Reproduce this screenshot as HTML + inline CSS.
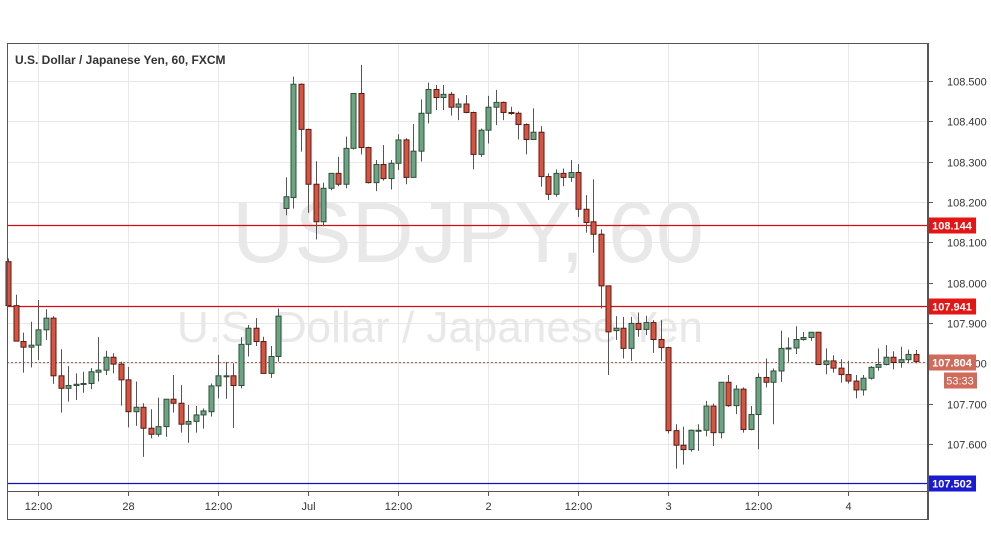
<!DOCTYPE html>
<html><head><meta charset="utf-8"><style>
body{margin:0;background:#fff;width:991px;height:556px;overflow:hidden;font-family:"Liberation Sans",sans-serif}
svg{display:block}
</style></head><body>
<svg id="chart" width="991" height="556" xmlns="http://www.w3.org/2000/svg" font-family="Liberation Sans, sans-serif">
<rect x="0" y="0" width="991" height="556" fill="#fff"/>
<g id="grid"></g>
<text x="468" y="262" font-size="86" fill="#e8e8e8" text-anchor="middle">USDJPY, 60</text>
<text x="440" y="342" font-size="44" fill="#e8e8e8" text-anchor="middle">U.S. Dollar / Japanese Yen</text>
<g id="levels"></g>
<g id="candles"></g>
<g id="yaxis"></g>
<g id="xaxis"></g>
<rect x="7.5" y="43.5" width="920" height="476" fill="none" stroke="#555" stroke-width="1"/>
<line x1="928.5" y1="43" x2="928.5" y2="520" stroke="#555"/>
<line x1="7" y1="491.5" x2="928" y2="491.5" stroke="#555"/>
<text x="15" y="64" font-size="12" font-weight="bold" fill="#333">U.S. Dollar / Japanese Yen, 60, FXCM</text>
</svg>
<script>
const opens=[108.052,107.943,107.854,107.840,107.845,107.883,107.912,107.769,107.738,107.745,107.748,107.750,107.778,107.783,107.815,107.798,107.759,107.680,107.691,107.639,107.624,107.643,107.711,107.701,107.649,107.656,107.672,107.680,107.744,107.768,107.769,107.745,107.847,107.887,107.854,107.775,107.817,
108.184,108.211,108.492,108.380,108.244,108.151,108.234,108.271,108.244,108.333,108.469,108.335,108.248,108.293,108.258,108.296,108.354,108.261,108.326,108.420,108.479,108.459,108.467,108.435,108.443,108.422,108.318,108.378,108.435,108.447,108.422,108.420,108.392,108.355,108.373,108.263,108.219,108.271,108.261,108.273,108.182,108.151,108.120,107.992,107.881,107.887,107.837,107.899,107.884,107.901,107.859,107.839,107.633,107.597,107.586,107.633,107.634,107.694,107.628,107.753,107.695,107.736,107.636,107.673,107.765,107.753,107.781,107.837,107.838,107.859,107.864,107.877,107.797,107.806,107.788,107.772,107.756,107.734,107.763,107.790,107.797,107.815,107.802,107.809,107.822];
const highs=[108.060,107.970,107.876,107.903,107.957,107.934,107.917,107.835,107.793,107.775,107.779,107.788,107.865,107.831,107.825,107.804,107.791,107.755,107.701,107.686,107.715,107.711,107.771,107.746,107.697,107.694,107.688,107.750,107.821,107.803,107.800,107.865,107.895,107.912,107.866,107.843,107.936,
108.261,108.511,108.494,108.382,108.301,108.248,108.271,108.312,108.362,108.469,108.540,108.337,108.304,108.341,108.304,108.368,108.358,108.393,108.454,108.496,108.490,108.490,108.473,108.457,108.465,108.424,108.382,108.463,108.478,108.449,108.436,108.424,108.395,108.432,108.388,108.271,108.281,108.283,108.304,108.294,108.217,108.256,108.132,107.992,107.917,107.915,107.915,107.926,107.918,107.907,107.907,107.841,107.649,107.643,107.636,107.649,107.707,107.700,107.753,107.771,107.746,107.740,107.694,107.775,107.812,107.787,107.881,107.864,107.892,107.878,107.878,107.878,107.837,107.820,107.810,107.806,107.771,107.771,107.793,107.837,107.845,107.830,107.841,107.834,107.833];
const lows=[107.943,107.855,107.777,107.790,107.808,107.858,107.749,107.678,107.705,107.709,107.727,107.736,107.755,107.771,107.775,107.695,107.641,107.645,107.568,107.614,107.618,107.618,107.678,107.628,107.603,107.628,107.638,107.668,107.713,107.712,107.640,107.738,107.817,107.843,107.775,107.764,107.804,
108.167,108.184,108.325,108.173,108.107,108.140,108.229,108.239,108.234,108.330,108.318,108.246,108.227,108.253,108.231,108.279,108.244,108.261,108.300,108.395,108.428,108.428,108.414,108.403,108.420,108.281,108.312,108.345,108.391,108.403,108.416,108.355,108.318,108.354,108.238,108.205,108.213,108.239,108.250,108.163,108.124,108.074,107.936,107.771,107.858,107.812,107.806,107.866,107.870,107.826,107.806,107.626,107.539,107.549,107.581,107.583,107.619,107.595,107.614,107.692,107.674,107.628,107.634,107.587,107.740,107.649,107.754,107.804,107.823,107.856,107.856,107.796,107.773,107.777,107.752,107.750,107.713,107.720,107.760,107.782,107.795,107.785,107.789,107.800,107.800];
const closes=[107.943,107.855,107.840,107.845,107.883,107.912,107.769,107.738,107.745,107.748,107.750,107.779,107.783,107.815,107.798,107.759,107.680,107.691,107.639,107.624,107.643,107.711,107.701,107.649,107.656,107.672,107.682,107.744,107.769,107.769,107.745,107.847,107.887,107.854,107.775,107.817,107.917,
108.213,108.492,108.380,108.244,108.151,108.234,108.271,108.244,108.333,108.469,108.335,108.248,108.293,108.258,108.296,108.354,108.261,108.326,108.420,108.479,108.459,108.467,108.435,108.443,108.422,108.318,108.378,108.435,108.447,108.422,108.420,108.392,108.355,108.373,108.263,108.219,108.271,108.261,108.273,108.182,108.149,108.120,107.992,107.878,107.887,107.837,107.899,107.884,107.901,107.859,107.839,107.633,107.597,107.586,107.634,107.634,107.694,107.628,107.753,107.695,107.736,107.636,107.673,107.765,107.753,107.781,107.837,107.838,107.859,107.864,107.877,107.797,107.806,107.788,107.772,107.756,107.734,107.763,107.790,107.797,107.815,107.802,107.809,107.822,107.804];
const yTicks=[108.5,108.4,108.3,108.2,108.1,108.0,107.9,107.8,107.7,107.6];
const xTickLabels=["12:00","28","12:00","Jul","12:00","2","12:00","3","12:00","4"];
const xTickIndex=[4,16,28,40,52,64,76,88,100,112];
const levelValues=[108.144,107.941];
const supportValue=107.502;
const lastPrice=107.804;
const countdown="53:33";

const NS="http://www.w3.org/2000/svg";
const yOf=v=>81+(108.5-v)*403.3;
const xOf=i=>8+7.5*i;
function mk(tag,attrs,parent,text){const e=document.createElementNS(NS,tag);for(const k in attrs)e.setAttribute(k,attrs[k]);if(text!==undefined)e.textContent=text;parent.appendChild(e);return e;}
const grid=document.getElementById('grid'),yaxis=document.getElementById('yaxis'),xaxis=document.getElementById('xaxis'),candles=document.getElementById('candles'),levels=document.getElementById('levels');

yTicks.forEach(v=>{const y=Math.round(yOf(v))+0.5;
 const g=mk('line',{x1:7,x2:928,y1:y,y2:y,stroke:'#e8e8e8'},grid);
 
 
 mk('line',{x1:928,x2:933,y1:y,y2:y,stroke:'#555'},yaxis);
 const t=mk('text',{x:947,y:y+4,'font-size':11,fill:'#333'},yaxis,v.toFixed(3));
 
 
});
xTickIndex.forEach((idx,k)=>{const x=Math.round(xOf(idx))+0.5;
 const g=mk('line',{x1:x,x2:x,y1:43,y2:491,stroke:'#e8e8e8'},grid);
 
 
 mk('line',{x1:x,x2:x,y1:491,y2:496,stroke:'#555'},xaxis);
 const t=mk('text',{x:x,y:510,'font-size':11,fill:'#333','text-anchor':'middle'},xaxis,xTickLabels[k]);
 
 
});

levelValues.forEach(v=>{const y=Math.round(yOf(v))+0.5;
 const l=mk('line',{x1:7,x2:928,y1:y,y2:y,stroke:'#d01010','stroke-width':1.2},levels);
 
 
 const r=mk('rect',{x:929,y:y-8,width:47,height:16,fill:'#e41515'},yaxis);
 
 
 mk('text',{x:952,y:y+4,'font-size':11,'font-weight':'bold',fill:'#fff','text-anchor':'middle'},yaxis,v.toFixed(3));
});
(function(){const y=Math.round(yOf(supportValue))+0.5;
 const l=mk('line',{x1:7,x2:928,y1:y,y2:y,stroke:'#1010c0','stroke-width':1.2},levels);
 
 
 const r=mk('rect',{x:929,y:y-8,width:47,height:16,fill:'#1a1ad0'},yaxis);
 
 
 mk('text',{x:952,y:y+4,'font-size':11,'font-weight':'bold',fill:'#fff','text-anchor':'middle'},yaxis,supportValue.toFixed(3));
 const yl=Math.round(yOf(lastPrice))+0.5;
 const d=mk('line',{x1:7,x2:928,y1:yl,y2:yl,stroke:'#c0584a','stroke-dasharray':'2,2'},levels);
 
 
 const r2=mk('rect',{x:929,y:yl-8,width:47,height:16,fill:'#d06a5a'},yaxis);
 
 
 mk('text',{x:952,y:yl+4,'font-size':11,'font-weight':'bold',fill:'#fff','text-anchor':'middle'},yaxis,lastPrice.toFixed(3));
 const r3=mk('rect',{x:944,y:yl+10,width:33,height:16,fill:'#d06a5a'},yaxis);
 
 
 mk('text',{x:960,y:yl+22,'font-size':11,fill:'#fff','text-anchor':'middle'},yaxis,countdown);
})();

opens.forEach((o,i)=>{const c=closes[i],h=highs[i],l=lows[i];
 const up=c>=o;const x=Math.round(xOf(i));
 const g=mk('g',{},candles);
 
 
 const col=up?'#2f4f3a':'#5a1a12';
 mk('line',{x1:x+0.5,x2:x+0.5,y1:yOf(h),y2:yOf(l),stroke:'#555','stroke-width':1},g);
 const top=yOf(Math.max(o,c)),bot=yOf(Math.min(o,c));
 mk('rect',{x:x-2,y:top,width:5,height:Math.max(1,bot-top),fill:up?'#6ba583':'#d75442',stroke:col,'stroke-width':1},g);
});
</script>
</body></html>
